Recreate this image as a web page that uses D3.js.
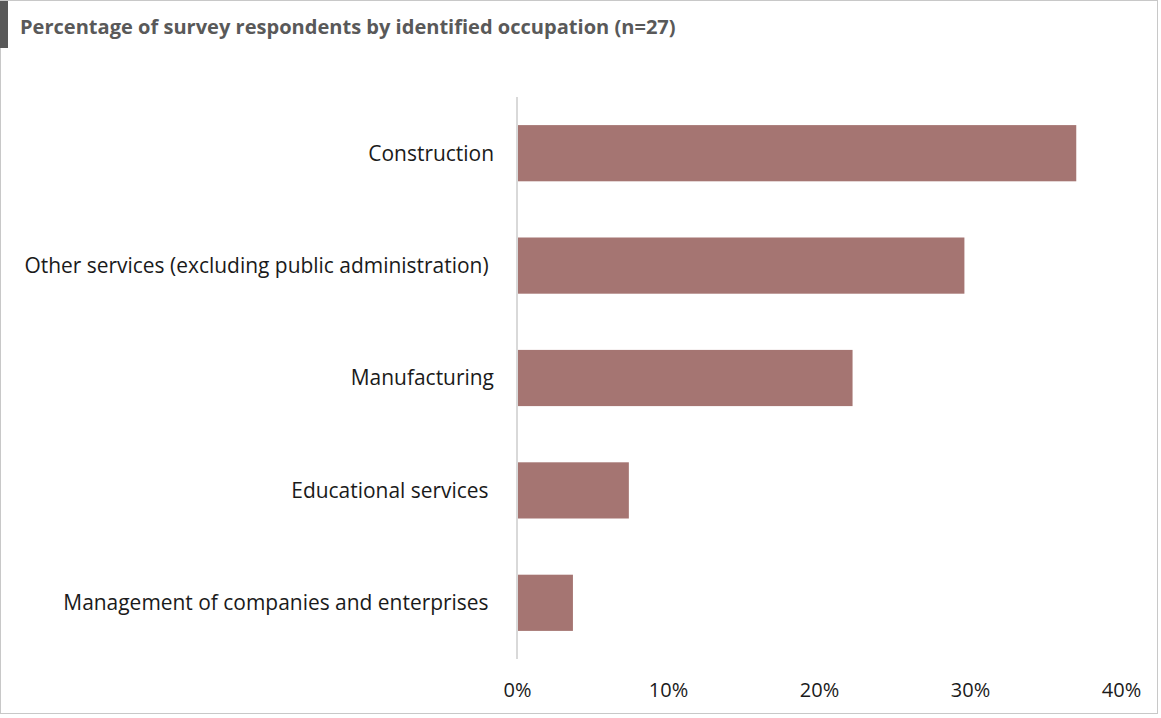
<!DOCTYPE html>
<html>
<head>
<meta charset="utf-8">
<script src="https://cdn.jsdelivr.net/npm/d3@7"></script>
<style>
  html, body { margin: 0; padding: 0; background: #fff; }
  svg { display: block; }
  text { font-family: "Open Sans", "Noto Sans", sans-serif; }
</style>
</head>
<body>
<svg id="chart" width="1161" height="718"></svg>
<script>
// Occupation categories, top to bottom
const categories = [
  "Construction",
  "Other services (excluding public administration) ",
  "Manufacturing",
  "Educational services ",
  "Management of companies and enterprises "
];
// Share of respondents (n=27)
const shares = [10 / 27, 8 / 27, 6 / 27, 2 / 27, 1 / 27];
const tickValues = [0, 0.1, 0.2, 0.3, 0.4];
const titleText = "Percentage of survey respondents by identified occupation (n=27)";

const W = 1161, H = 718;
const svg = d3.select("#chart");

// outer frame
svg.append("rect")
  .attr("x", 0.5).attr("y", 0.5)
  .attr("width", 1157).attr("height", 713)
  .attr("fill", "#fff").attr("stroke", "#c8c8c8");

// title accent bar
svg.append("rect")
  .attr("x", 0).attr("y", 1).attr("width", 8).attr("height", 47)
  .attr("fill", "#595959");

const title = svg.append("text")
  .attr("x", 20).attr("y", 34)
  .attr("fill", "#595959")
  .attr("font-weight", "bold")
  .attr("font-size", 17)
  .text(titleText);
// fit title to its span
{
  const w = title.node().getComputedTextLength();
  title.attr("font-size", 17 * 656 / w);
}

const x = d3.scaleLinear().domain([0, 0.4]).range([517, 1121]);
const y = d3.scaleBand().domain(categories).range([97, 659]).paddingInner(0.5).paddingOuter(0.25);

const data = categories.map((c, i) => ({ c, v: shares[i] }));

svg.append("g").selectAll("rect")
  .data(data)
  .enter().append("rect")
  .attr("x", x(0))
  .attr("y", d => y(d.c))
  .attr("width", d => x(d.v) - x(0))
  .attr("height", y.bandwidth())
  .attr("fill", "#a57572");

// vertical axis line
svg.append("line")
  .attr("x1", x(0)).attr("x2", x(0))
  .attr("y1", 97).attr("y2", 659)
  .attr("stroke", "#d9d9d9").attr("stroke-width", 2);

// category labels
const labels = svg.append("g").selectAll("text")
  .data(categories)
  .enter().append("text")
  .attr("x", 494)
  .attr("y", d => y(d) + y.bandwidth() / 2)
  .attr("dy", "0.35em")
  .attr("text-anchor", "end")
  .attr("fill", "#1a1a1a")
  .attr("font-size", 18)
  .style("white-space", "pre")
  .text(d => d);
{
  const longest = labels.filter((d, i) => i === 1).node();
  const w = longest.getComputedTextLength();
  labels.attr("font-size", 18 * 470 / w);
}

// x tick labels
const xAxis = d3.axisBottom(x)
  .tickValues(tickValues)
  .tickFormat(d3.format(".0%"))
  .tickSize(0)
  .tickPadding(0);
const gx = svg.append("g")
  .attr("transform", "translate(0,683)")
  .call(xAxis);
gx.select(".domain").remove();
gx.selectAll("text")
  .attr("fill", "#1a1a1a")
  .attr("font-size", 20)
  .attr("font-family", "'Open Sans', 'Noto Sans', sans-serif");
</script>
</body>
</html>
